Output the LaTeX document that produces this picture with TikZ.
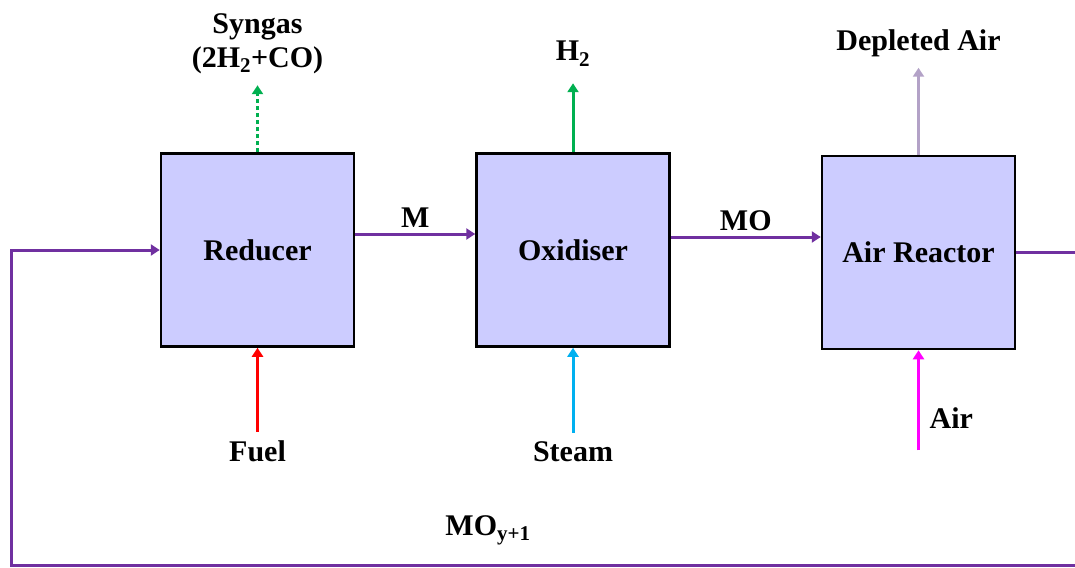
\documentclass[tikz,border=0pt]{standalone}
\usepackage{fontspec}
\setmainfont{Liberation Serif}
\usepackage{xcolor}
\usepackage{tikz}
\usetikzlibrary{arrows.meta, positioning, calc}

\definecolor{unitfill}{RGB}{204,204,255}
\definecolor{loopcol}{RGB}{112,48,160}
\definecolor{gascol}{RGB}{0,176,80}
\definecolor{steamcol}{RGB}{0,176,240}
\definecolor{aircol}{RGB}{255,0,255}
\definecolor{depcol}{RGB}{179,162,199}
\newcommand{\lblfont}{\fontsize{30}{34}\selectfont\bfseries}

\begin{document}
\begin{tikzpicture}[
    x=1pt, y=-1pt,
    unit/.style={rectangle, draw=black, fill=unitfill, line width=2.5pt, minimum width=193pt, minimum height=193pt, align=center, font=\lblfont},
    lbl/.style={align=center, inner sep=3pt, text=black, font=\lblfont},
    arr/.style={-{Triangle[length=9pt, width=11pt]}, line width=3pt, color=loopcol},
    inarr/.style={-{Triangle[length=9pt, width=11pt]}, line width=3pt}
]
\clip (0,0) rectangle (1075,567);

% Reactors
\node[unit] (reducer) at (257.5,250) {Reducer};
\node[unit, right=120pt of reducer] (oxidiser) {Oxidiser};
\node[unit, right=150pt of oxidiser, yshift=-2.5pt] (airreactor) {Air Reactor};

% Outlet streams
\coordinate[above=67pt of reducer.north] (syngastip);
\coordinate[above=69pt of oxidiser.north] (htwotip);
\coordinate[above=87pt of airreactor.north] (depltip);
\node[lbl, above=8pt of syngastip] (syngas) {Syngas\\(2H\textsubscript{2}+CO)};
\node[lbl, above=14pt of htwotip] (htwo) {H\textsubscript{2}};
\node[lbl, above=8pt of depltip] (depleted) {Depleted Air};

% Inlet streams
\node[lbl, below=90pt of reducer] (fuel) {Fuel};
\node[lbl, below=91pt of oxidiser] (steam) {Steam};
\coordinate[below=100pt of airreactor.south] (airstart);
\node[lbl, right=8pt of airstart, yshift=32pt] (air) {Air};

% Solids loop
\coordinate (loopright) at (1085,565);
\coordinate (loopleft) at (11,565);
\node[lbl] (moyone) at (488,530) {MO\textsubscript{y+1}};

\draw[arr] ([yshift=16pt]reducer.east) -- node[lbl, above=2pt] (mlbl) {M} ([yshift=16pt]oxidiser.west);
\draw[arr] ([yshift=13pt]oxidiser.east) -- node[lbl, above=2pt] (molbl) {MO} ([yshift=13pt]oxidiser.east -| airreactor.west);
\draw[arr] (airreactor.east) -| (loopright) -- (loopleft) |- (reducer.west);

\draw[inarr, gascol, dashed, dash pattern=on 4pt off 3pt] (reducer.north) -- (syngastip);
\draw[inarr, gascol] (oxidiser.north) -- (htwotip);
\draw[inarr, depcol] (airreactor.north) -- (depltip);
\draw[inarr, red] ([yshift=6pt]fuel.north) -- (reducer.south);
\draw[inarr, steamcol] ([yshift=6pt]steam.north) -- (oxidiser.south);
\draw[inarr, aircol] (airstart) -- (airreactor.south);

\end{tikzpicture}
\end{document}
